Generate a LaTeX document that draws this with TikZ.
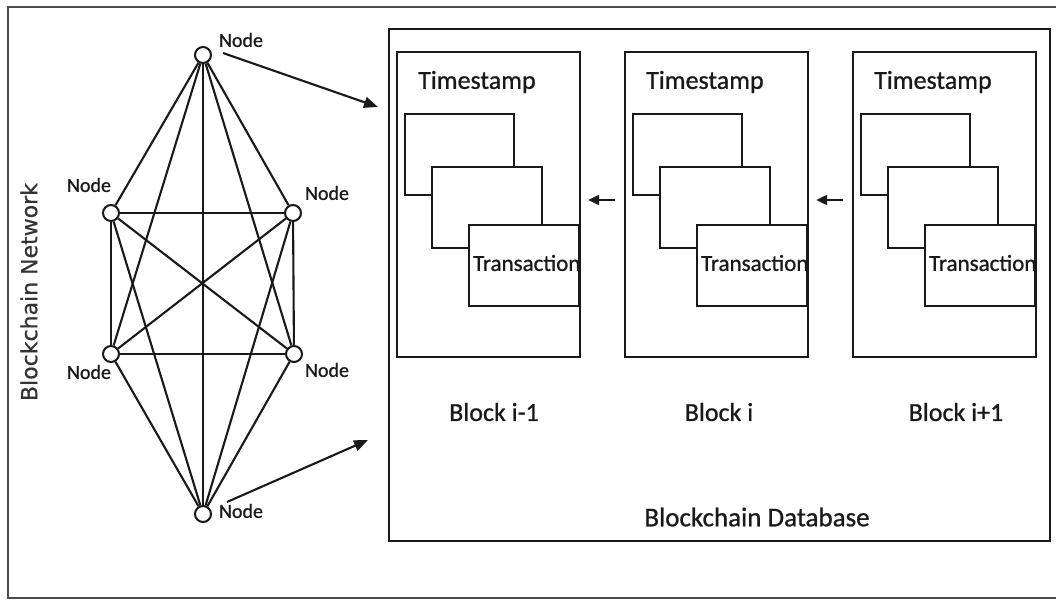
\documentclass[tikz,border=0pt]{standalone}
\usepackage{fontspec}
\setmainfont{Carlito}[FakeBold=0.8]
\newfontfamily\dejavu{DejaVu Sans}[FakeBold=0.5]
\usetikzlibrary{arrows.meta}
\begin{document}
\begin{tikzpicture}[x=1pt,y=-1pt,
  ln/.style={line width=2.1pt, black!90},
  net/.style={circle, draw=black!90, fill=white, line width=2pt, minimum size=16pt, inner sep=0pt},
  blk/.style={draw=black!90, line width=2.3pt, minimum width=183pt, minimum height=305pt, inner sep=0pt},
  txbox/.style={draw=black!90, fill=white, line width=2.3pt, minimum height=81pt, inner sep=0pt},
  nodelbl/.style={font=\fontsize{20}{24}\selectfont, text=black!90, inner sep=0pt},
  bigtxt/.style={font=\fontsize{26}{30}\selectfont, text=black!90, inner sep=0pt},
  bigarr/.style={line width=2.1pt, black!90, -{Triangle[length=14pt,width=11pt]}},
  smallarr/.style={line width=2.1pt, black!90, -{Triangle[length=11pt,width=10pt]}}
]
\useasboundingbox (0,0) rectangle (1056,599);
\fill[white] (0,0) rectangle (1056,599);
% outer frame
\draw[line width=1.8pt, black!70] (1060,7) -- (8,7) -- (8,598) -- (1060,598);

% network label
\node[rotate=90, font=\dejavu\fontsize{22}{26}\selectfont, text=black!80, inner sep=0pt] (netlbl) at (29,292) {Blockchain Network};

% network nodes
\node[net] (n1) at (203,55) {};
\node[net] (n2) at (111,213) {};
\node[net] (n3) at (293,213) {};
\node[net] (n4) at (111,354) {};
\node[net] (n5) at (294,354) {};
\node[net] (n6) at (203,514) {};
\foreach \a/\b in {n1/n2,n1/n3,n1/n4,n1/n5,n1/n6,n2/n3,n2/n4,n2/n5,n2/n6,n3/n4,n3/n5,n3/n6,n4/n5,n4/n6,n5/n6}
  \draw[ln] (\a) -- (\b);

\node[nodelbl] (l1) at (241,40) {Node};
\node[nodelbl] (l2) at (89,185) {Node};
\node[nodelbl] (l3) at (327,193) {Node};
\node[nodelbl] (l4) at (89,372) {Node};
\node[nodelbl] (l5) at (327,370) {Node};
\node[nodelbl] (l6) at (241,511) {Node};

% database box
\node[draw=black!90, line width=2.3pt, minimum width=661pt, minimum height=512pt, inner sep=0pt] (db) at (719.5,285) {};

% arrows from network to database
\coordinate (a1s) at (223,53);
\coordinate (a1e) at (378,107);
\coordinate (a2s) at (227,502);
\coordinate (a2e) at (368,440);
\draw[bigarr] (a1s) -- (a1e);
\draw[bigarr] (a2s) -- (a2e);

% blocks
\foreach \n/\x in {b1/397, b2/625, b3/853} {
  \node[blk] (\n) at (\x+91.5,204.5) {};
  \node[bigtxt, anchor=west] (\n-ts) at (\x+21,82) {Timestamp};
  \node[txbox, minimum width=109pt] (\n-r1) at (\x+62.5,154.5) {};
  \node[txbox, minimum width=110pt] (\n-r2) at (\x+90,207.5) {};
  \node[txbox, minimum width=110pt] (\n-r3) at (\x+127,265.5) {};
  \node[font=\fontsize{23}{27}\selectfont, text=black!90, inner sep=0pt, anchor=west] (\n-tr) at (\x+76,263) {Transaction};
}

% arrows between blocks
\draw[smallarr] ([shift={(-9,-4.5)}]b2.west) -- ([shift={(7,-4.5)}]b1.east);
\draw[smallarr] ([shift={(-9,-4.5)}]b3.west) -- ([shift={(7,-4.5)}]b2.east);

% block labels
\node[bigtxt] (bl1) at (494,412) {Block i-1};
\node[bigtxt] (bl2) at (719,412) {Block i};
\node[bigtxt] (bl3) at (956,412) {Block i+1};
\node[bigtxt, font=\fontsize{27}{31}\selectfont] (dbl) at (757,517) {Blockchain Database};
\end{tikzpicture}
\end{document}
